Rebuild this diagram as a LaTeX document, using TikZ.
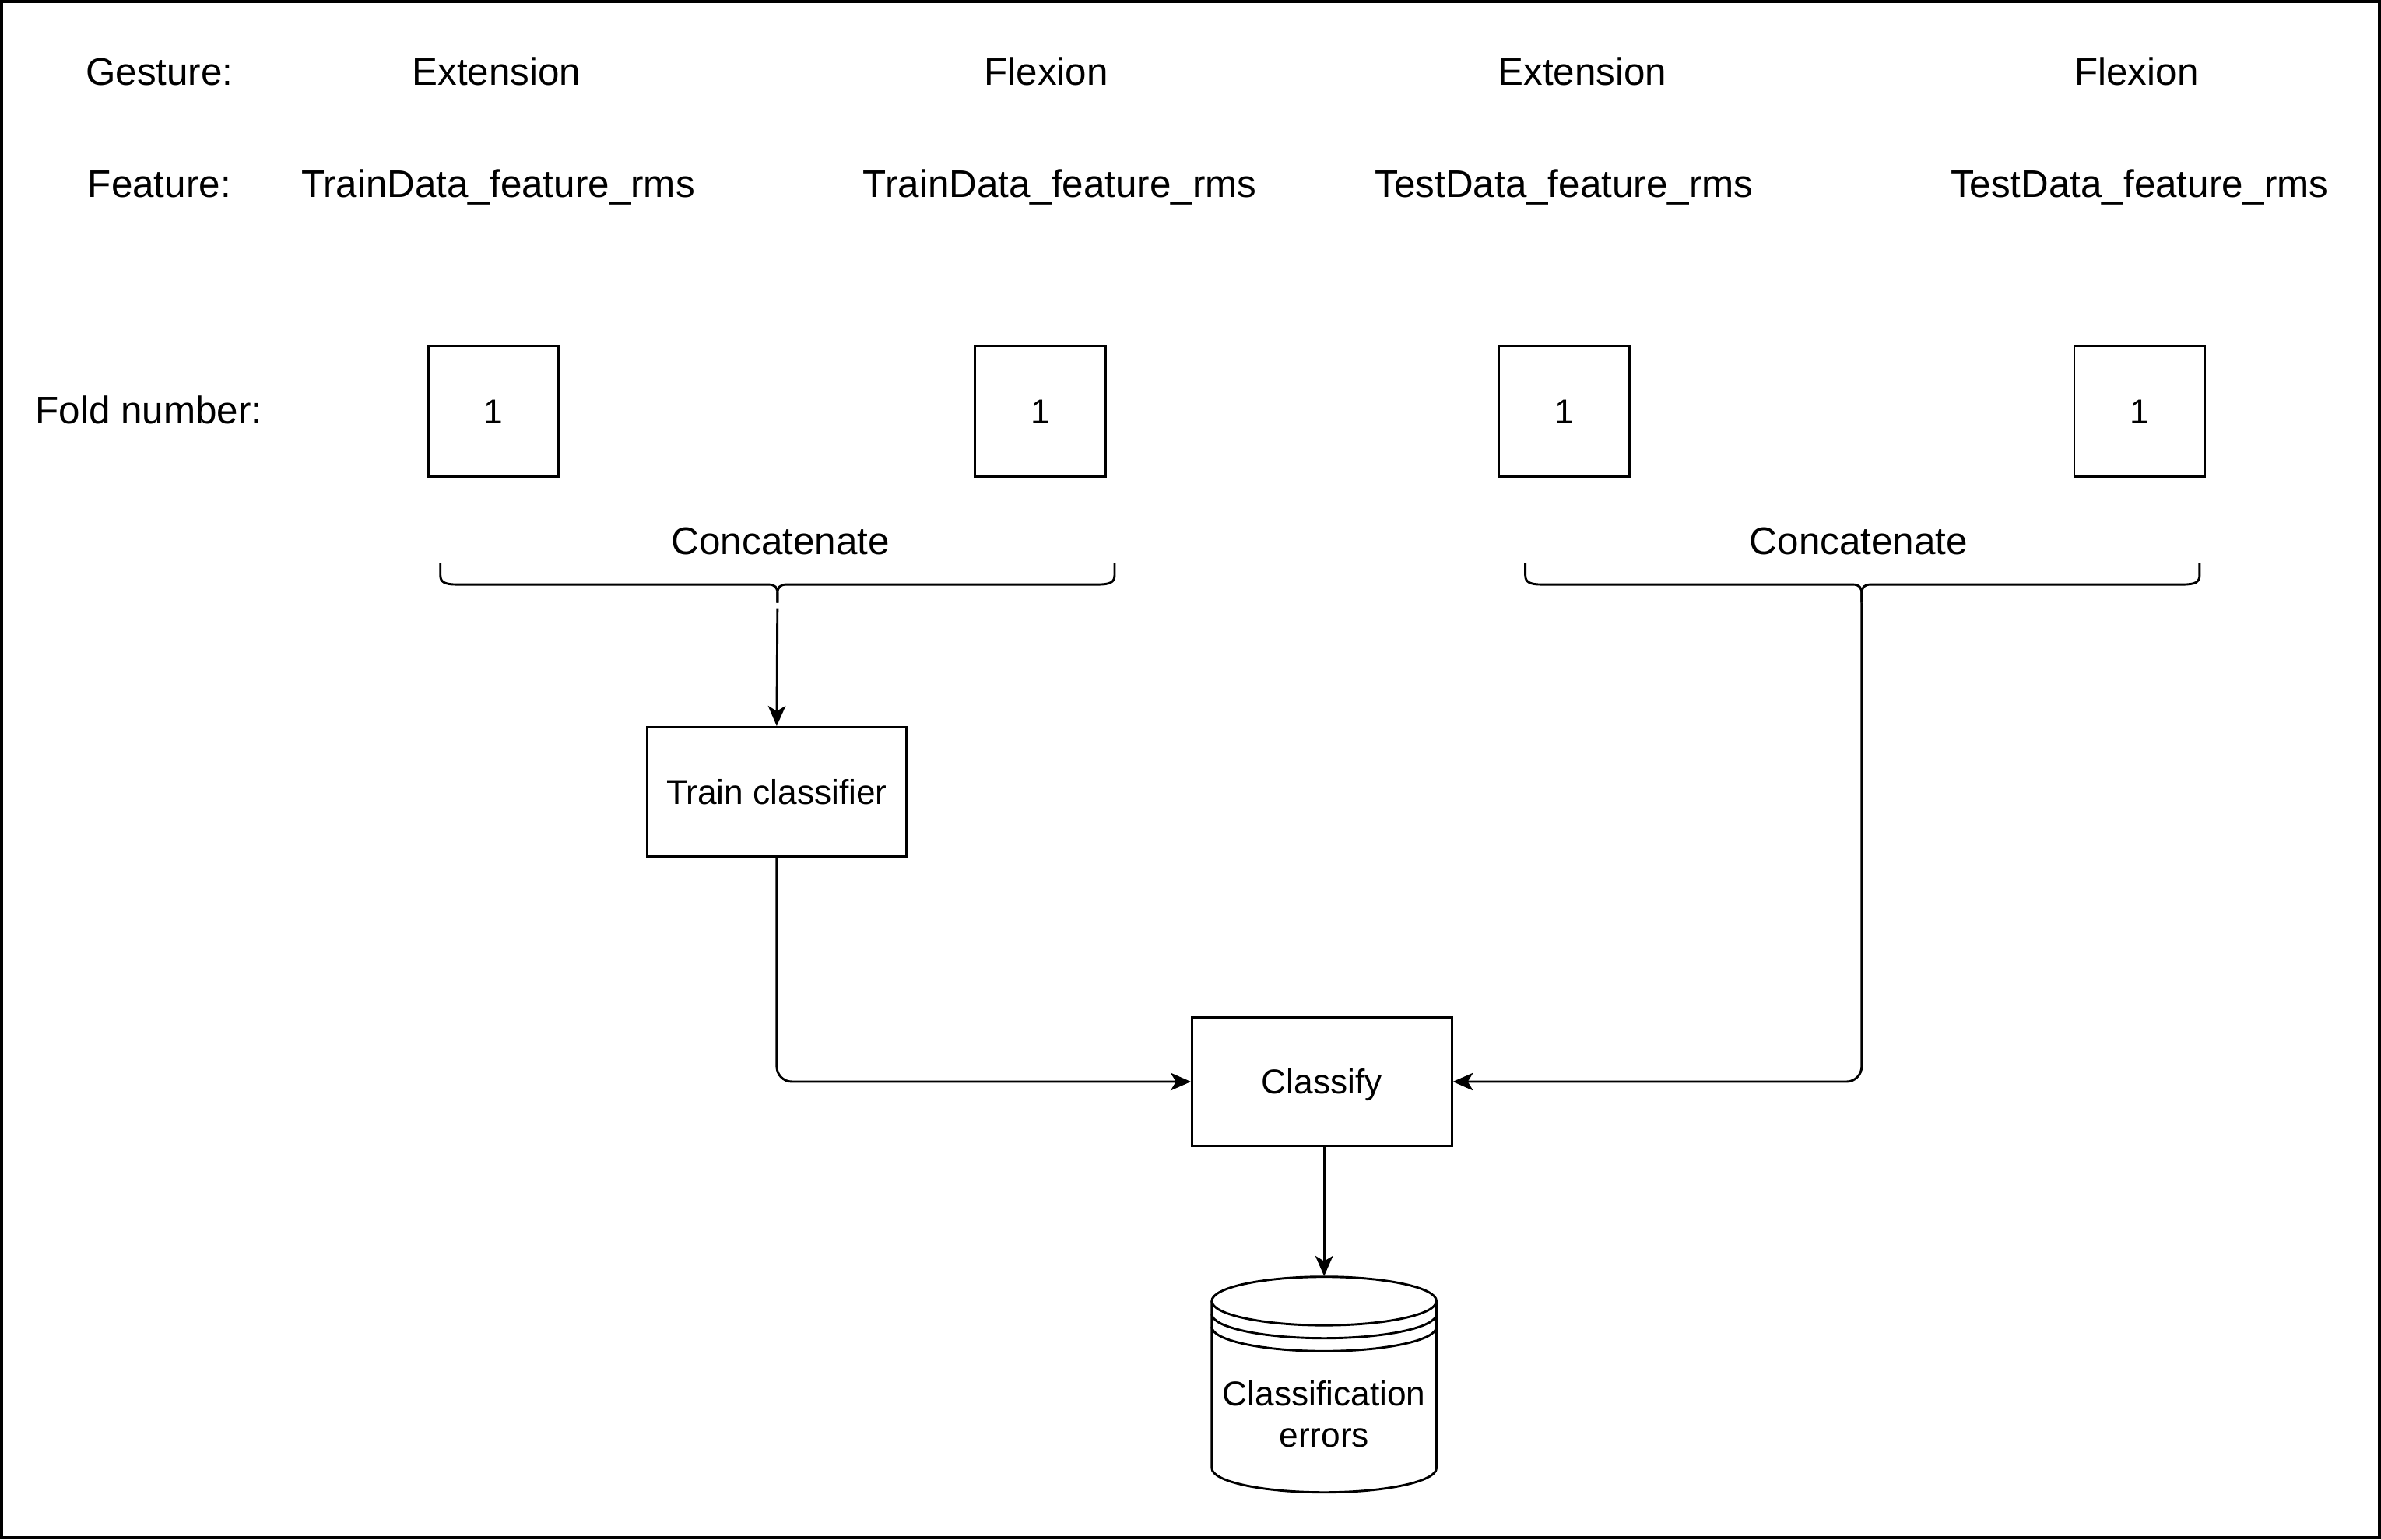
\documentclass[tikz,border=0pt]{standalone}
\usepackage{fontspec}
\setmainfont{Liberation Sans}
\usetikzlibrary{arrows.meta}
\newcommand{\mybrace}[5]{% L, R, M, yTop, yH
  \draw[brline] (#1,#4) -- (#1,#5-6) .. controls (#1,#5-1.5) and (#1+3,#5) .. (#1+11,#5)
    -- (#3-6,#5) .. controls (#3-1.5,#5) and (#3,#5+2) .. (#3,#5+6) -- (#3,#5+12);
  \draw[brline] (#3,#5+12) -- (#3,#5+6) .. controls (#3,#5+2) and (#3+1.5,#5) .. (#3+6,#5)
    -- (#2-11,#5) .. controls (#2-3,#5) and (#2,#5-1.5) .. (#2,#5-6) -- (#2,#4);
}
\begin{document}
\begin{tikzpicture}[x=0.02cm,y=-0.02cm,
  lbl/.style={inner sep=0pt, font=\fontsize{14.4}{17}\selectfont, text height=10.3pt, text depth=0pt},
  sqbox/.style={draw, line width=0.85pt, minimum width=1.72cm, minimum height=1.72cm, inner sep=0pt,
    font=\fontsize{12.9}{15}\selectfont, text height=9.24pt, text depth=0pt},
  procbox/.style={draw, line width=0.85pt, minimum width=3.42cm, minimum height=1.70cm, inner sep=0pt,
    font=\fontsize{12.9}{15}\selectfont, text height=9.24pt, text depth=0pt},
  brline/.style={line width=0.85pt, line join=round},
  conn/.style={line width=0.85pt, -{Stealth[length=7.6pt, width=6.6pt, inset=2pt]}, rounded corners=0.2cm},
]
\useasboundingbox (0,0) rectangle (1568,1013.9);
\draw[line width=1.25pt] (1.1,1.1) rectangle (1566.9,1012.8);

% header rows
\node[lbl] (g0) at (105,47) {Gesture:};
\node[lbl] (g1) at (327,47) {Extension};
\node[lbl] (g2) at (689,47) {Flexion};
\node[lbl] (g3) at (1042,47) {Extension};
\node[lbl] (g4) at (1407,47) {Flexion};

\node[lbl] (f0) at (105,121) {Feature:};
\node[lbl] (f1) at (328,121) {TrainData\_feature\_rms};
\node[lbl] (f2) at (698,121) {TrainData\_feature\_rms};
\node[lbl] (f3) at (1030,121) {TestData\_feature\_rms};
\node[lbl] (f4) at (1409,121) {TestData\_feature\_rms};

\node[lbl] (fn) at (98,270) {Fold number:};

% fold boxes
\node[sqbox] (k1) at (325,271) {1};
\node[sqbox] (k2) at (685,271) {1};
\node[sqbox] (k3) at (1030,271) {1};
\node[sqbox] (k4) at (1409,271) {1};

% concatenate labels and braces
\node[lbl] (c1) at (514,356) {Concatenate};
\node[lbl] (c2) at (1224,356) {Concatenate};
\mybrace{290}{734}{512}{371}{385}
\mybrace{1004.5}{1448.5}{1226}{371}{385}
\coordinate (b1tip) at (512,397);
\coordinate (b2tip) at (1226,397);

% process boxes
\node[procbox] (train) at (511.5,521.5) {Train classifier};
\node[procbox] (classify) at (870.5,712.5) {Classify};

% data store cylinder
\coordinate (cyltop) at (872,840.6);
\draw[line width=0.85pt, fill=white] (798,857) -- (798,967)
  arc[start angle=180, end angle=360, x radius=1.48cm, y radius=0.32cm] -- (946,857);
\draw[line width=0.85pt] (872,857) ellipse[x radius=1.48cm, y radius=0.32cm];
\draw[line width=0.85pt] (798,865.5) arc[start angle=180, end angle=360, x radius=1.48cm, y radius=0.32cm];
\draw[line width=0.85pt] (798,874) arc[start angle=180, end angle=360, x radius=1.48cm, y radius=0.32cm];
\node[align=center, inner sep=0pt, font=\fontsize{12.9}{15.3}\selectfont] (errs) at (872,931.5) {Classification\\errors};

% connectors
\draw[conn, shorten <=3.6*0.02cm] (b1tip) -- (train.north);
\draw[conn] (train.south) -- (train.south |- classify.west) -- (classify.west);
\draw[conn] (b2tip) -- (b2tip |- classify.east) -- (classify.east);
\draw[conn] (classify.south -| cyltop) -- (cyltop);
\end{tikzpicture}
\end{document}
